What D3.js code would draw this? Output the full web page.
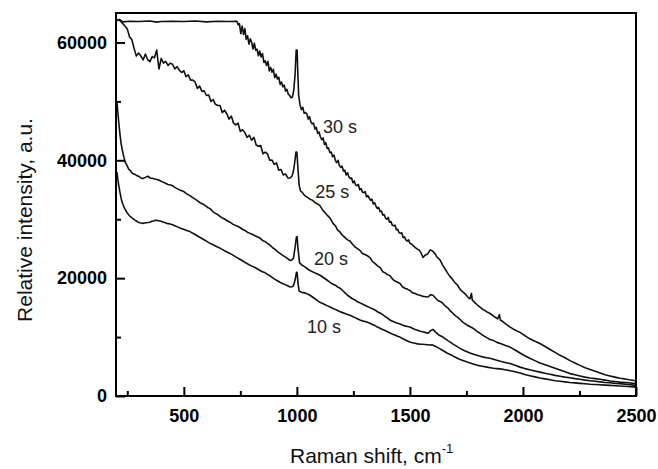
<!DOCTYPE html>
<html>
<head>
<meta charset="utf-8">
<script src="https://cdn.jsdelivr.net/npm/d3@7"></script>
<style>
  body { margin: 0; background: #fff; }
  svg { display: block; font-family: "Liberation Sans", Arial, sans-serif; }
</style>
</head>
<body>
<div id="chart"></div>
<script>
// Raman spectra, exposure times 10 s .. 30 s
const seriesNames = ["30 s", "25 s", "20 s", "10 s"];

const s30 = [[204,63700],[215,63900],[230,63500],[260,63600],[300,63550],[350,63650],[380,63450],[400,63550],[450,63600],[500,63550],[550,63650],[600,63500],[650,63600],[700,63550],[735,63600],
  [740,63000],[746,63190],[752,61480],[758,62770],[764,61360],[770,62350],[776,60540],[782,61130],[788,59720],[794,60610],[800,60000],[806,58890],[812,59880],[818,58670],[824,58860],[830,57750],[836,58540],[842,57530],[848,58120],[854,56610],[860,56900],[866,56090],[872,56780],[878,55170],[884,55760],[890,54950],[896,55440],[902,54030],[908,54620],[914,53810],[920,54100],[926,52890],[932,53280],[938,52470],[944,52760],[950,51750],[956,52040],[962,51230],[968,51020],[974,50610],[980,50700],[986,51800],[992,54500],[997,58700],[1001,58700],[1004,55000],[1008,51000],
  [1014,49400],[1020,48600],[1026,49000],[1032,48000],[1038,48100],[1044,47900],[1050,47000],[1056,47400],[1062,46500],[1068,46200],[1074,46300],[1080,45300],[1086,45600],[1092,44600],[1098,44800],[1104,44000],[1110,43500],[1116,43800],[1122,42700],[1128,43000],[1134,42000],[1140,42100],[1146,41300],[1152,41400],[1158,40600],[1164,40900],[1170,40000],[1176,39600],[1182,40000],[1188,39100],[1194,38800],[1200,39000],[1206,38200],[1212,38300],[1218,37500],[1224,37900],[1230,37200],[1236,36900],[1242,37000],[1248,36200],[1254,36500],[1260,35800],[1266,35700],[1272,35900],[1278,35000],[1284,35200],[1290,34600],[1296,34500],[1302,34700],[1308,33800],[1314,34000],[1320,33600],[1326,33200],[1332,33400],[1338,32600],[1344,32800],[1350,32200],[1356,31800],[1362,32000],[1368,31300],[1374,31400],[1380,30700],[1386,30800],[1392,30200],[1398,30000],[1404,30300],[1410,29500],[1416,29600],[1422,29000],[1428,28900],[1434,29000],[1440,28200],[1446,28300],[1452,27700],[1458,27600],[1464,27700],[1470,26900],[1476,27000],[1482,26500],[1488,26300],[1494,26500],[1500,25900],[1510,25700],[1520,25300],[1530,25000],[1540,24800],[1548,24400],[1558,23500],[1567,23900],[1578,24100],[1590,24800],[1600,24600],[1610,24200],[1620,23600],[1633,23100],[1645,22200],[1655,21600],[1666,20900],[1677,20300],[1688,19800],[1700,19200],[1711,18800],[1722,18100],[1733,17700],[1745,17300],[1756,16800],[1766,16500],[1772,17400],[1776,16300],[1788,15800],[1800,15400],[1810,15100],[1822,14700],[1832,14500],[1844,14200],[1854,14000],[1866,13700],[1876,13400],[1888,13100],[1896,13800],[1900,12900],[1912,12600],[1925,12200],[1943,11700],[1960,11300],[1987,10800],[2010,10200],[2030,9700],[2053,9300],[2075,8900],[2098,8400],[2120,7900],[2142,7400],[2164,6900],[2186,6500],[2208,6000],[2230,5600],[2252,5200],[2275,4800],[2297,4500],[2320,4200],[2341,3900],[2363,3600],[2385,3400],[2407,3200],[2429,3000],[2450,2900],[2470,2750],[2500,2600]];

const s25 = [[204,63800],[215,63800],[230,63200],[240,62800],[250,62300],[260,60900],[270,60500],[280,59000],[290,57700],[300,58200],[310,57700],[320,57050],[330,58050],[340,57100],[350,56750],[360,57600],[370,57400],[380,58700],[390,55500],[400,57300],[410,56500],[420,56800],[430,56100],[440,56500],[450,56300],[460,55500],[470,55900],[480,55300],[490,54900],[500,55200],[510,54200],[520,54500],[530,53600],[540,53600],[550,53300],[560,52200],[570,52600],[580,51700],[590,51800],[600,51000],[610,51100],[620,50000],[630,50300],[640,49500],[650,49300],[660,49300],[670,48100],[680,48500],[690,47900],[700,47000],[710,47500],[720,46300],[730,46000],[740,46300],[750,44900],[760,45200],[770,44700],[780,43900],[790,44250],[800,43400],[810,43900],[820,42600],[830,42400],[840,42500],[850,41100],[860,41400],[870,41100],[880,40000],[890,40050],[900,39300],[910,39550],[920,38300],[930,38450],[940,37500],[950,37700],[960,37000],[970,37000],[978,37300],[984,38000],[990,39500],[996,41400],[1000,41400],[1005,38500],[1010,35800],[1016,34800],
  [1023,34600],[1035,34000],[1047,33700],[1058,33400],[1070,33200],[1080,32800],[1092,32600],[1102,32300],[1115,31500],[1125,31100],[1136,30600],[1147,30200],[1160,29300],[1170,28900],[1180,28200],[1191,27800],[1203,27200],[1213,26900],[1224,26500],[1235,26300],[1247,25700],[1257,25300],[1268,25000],[1279,24700],[1290,24200],[1301,24000],[1312,23800],[1323,23500],[1335,22800],[1345,22500],[1357,22100],[1368,21800],[1380,21100],[1390,20900],[1401,20600],[1412,20400],[1424,19800],[1434,19500],[1446,19300],[1456,19100],[1468,18500],[1478,18300],[1490,18100],[1500,17900],[1512,17500],[1523,17400],[1535,17200],[1545,17100],[1558,16900],[1570,16850],[1580,16800],[1592,17200],[1602,17100],[1614,16600],[1624,16200],[1636,16000],[1646,15700],[1658,15200],[1669,14900],[1680,14400],[1691,14000],[1702,13600],[1713,13300],[1724,12900],[1735,12500],[1750,12100],[1765,11800],[1779,11500],[1795,11000],[1808,10700],[1823,10300],[1840,9900],[1854,9600],[1870,9400],[1885,9100],[1900,8900],[1920,8600],[1943,8300],[1965,7800],[1987,7300],[2010,6800],[2030,6400],[2053,6000],[2075,5600],[2098,5300],[2120,5000],[2142,4700],[2164,4400],[2186,4100],[2208,3800],[2230,3600],[2252,3400],[2275,3200],[2297,3050],[2320,2950],[2341,2850],[2363,2700],[2385,2550],[2407,2450],[2429,2350],[2465,2250],[2500,2100]];

const s20 = [[204,50000],[208,48200],[212,46500],[217,44600],[222,43000],[228,41700],[235,40500],[242,39600],[250,39000],[256,38500],[262,38300],[272,37800],[284,37600],[292,37400],[300,37300],[310,37000],[319,36900],[330,37100],[340,37300],[352,37000],[364,36900],[375,36800],[386,36700],[397,36500],[408,36300],[419,36100],[430,35900],[440,35800],[450,35700],[460,35400],[470,35200],[485,34900],[500,34700],[513,34300],[527,34000],[538,33700],[550,33400],[561,33100],[572,32800],[584,32600],[595,32300],[605,32000],[616,31800],[628,31300],[640,31000],[650,30800],[660,30500],[671,30200],[682,30000],[693,29700],[704,29500],[715,29200],[726,29000],[737,28800],[748,28600],[759,28300],[770,28100],[781,27800],[793,27600],[804,27400],[815,27200],[826,27000],[837,26800],[848,26400],[860,26200],[870,25900],[881,25600],[892,25200],[903,24900],[914,24500],[925,24200],[936,23900],[948,23600],[959,23300],[970,23000],[978,23100],[985,23400],[993,25500],[998,27000],[1001,27000],[1005,25000],[1012,22600],
  [1023,22200],[1032,22000],[1040,21800],[1049,21500],[1058,21300],[1069,21100],[1080,20900],[1091,20700],[1102,20500],[1114,20200],[1125,19900],[1136,19600],[1147,19300],[1158,19000],[1170,18800],[1180,18500],[1191,18300],[1202,17900],[1213,17500],[1224,17100],[1235,16800],[1246,16500],[1257,16300],[1268,16000],[1279,15800],[1290,15600],[1301,15400],[1312,15200],[1323,15000],[1334,14800],[1345,14600],[1356,14300],[1368,14100],[1379,13800],[1390,13500],[1401,13200],[1412,12900],[1423,12700],[1434,12500],[1445,12350],[1456,12200],[1467,12050],[1478,11900],[1489,11800],[1500,11700],[1511,11500],[1523,11300],[1534,11150],[1545,11000],[1556,10900],[1567,10800],[1580,10650],[1592,11100],[1602,11300],[1615,10800],[1630,10300],[1646,10000],[1657,9700],[1668,9400],[1680,9100],[1691,8800],[1702,8550],[1713,8300],[1724,8050],[1735,7800],[1750,7550],[1766,7300],[1781,7100],[1797,6900],[1811,6750],[1825,6600],[1840,6500],[1854,6400],[1877,6150],[1900,5900],[1921,5700],[1943,5500],[1965,5200],[1987,4900],[2008,4650],[2030,4450],[2053,4250],[2075,4050],[2098,3850],[2120,3700],[2142,3500],[2164,3350],[2186,3200],[2208,3100],[2230,2950],[2252,2850],[2275,2700],[2297,2600],[2320,2500],[2341,2400],[2363,2300],[2385,2250],[2407,2150],[2429,2100],[2465,1950],[2500,1800]];

const s10 = [[204,38000],[208,36800],[212,35800],[217,34700],[222,33700],[226,33000],[231,32500],[236,32000],[240,31700],[249,31100],[255,30800],[262,30500],[268,30300],[275,30100],[282,29900],[290,29700],[298,29500],[305,29400],[312,29350],[319,29300],[327,29350],[335,29400],[342,29450],[350,29500],[358,29650],[365,29700],[372,29800],[380,29800],[388,29750],[395,29700],[402,29600],[410,29500],[418,29400],[425,29300],[432,29250],[439,29200],[450,29050],[460,28900],[472,28700],[483,28500],[494,28350],[505,28200],[516,28050],[527,27900],[538,27650],[550,27400],[561,27150],[572,26900],[584,26650],[595,26400],[605,26150],[616,25900],[627,25700],[638,25500],[649,25300],[660,25100],[671,24850],[682,24600],[693,24400],[704,24200],[715,23950],[726,23700],[737,23450],[748,23200],[759,22950],[770,22700],[781,22450],[793,22200],[804,22000],[815,21800],[826,21550],[837,21300],[848,21100],[860,20900],[870,20650],[881,20400],[892,20100],[903,19800],[914,19550],[925,19300],[936,19100],[948,18900],[959,18700],[970,18500],[978,18550],[985,18700],[993,19800],[998,21000],[1001,21000],[1005,19200],[1010,17800],
  [1020,17600],[1028,17550],[1036,17500],[1047,17300],[1058,17100],[1069,16800],[1080,16500],[1091,16200],[1102,15900],[1114,15700],[1125,15500],[1136,15300],[1147,15100],[1158,14900],[1170,14700],[1180,14500],[1191,14300],[1202,14150],[1213,14000],[1224,13850],[1235,13700],[1246,13500],[1257,13300],[1268,13100],[1279,12900],[1290,12750],[1301,12650],[1312,12500],[1323,12350],[1334,12150],[1345,11950],[1356,11700],[1368,11500],[1379,11300],[1390,11100],[1401,10900],[1412,10700],[1423,10500],[1434,10350],[1445,10150],[1456,10000],[1467,9750],[1478,9550],[1489,9350],[1500,9150],[1511,9050],[1523,8950],[1534,8850],[1545,8800],[1556,8780],[1567,8750],[1578,8700],[1589,8650],[1598,8700],[1605,8550],[1612,8450],[1620,8300],[1631,8050],[1642,7800],[1653,7550],[1664,7300],[1675,7100],[1686,6900],[1697,6650],[1708,6450],[1722,6200],[1737,6000],[1751,5800],[1766,5600],[1783,5400],[1800,5200],[1820,5050],[1841,4900],[1855,4800],[1870,4700],[1885,4650],[1900,4600],[1921,4450],[1943,4300],[1965,4100],[1987,3900],[2008,3650],[2030,3450],[2053,3250],[2075,3050],[2098,2900],[2120,2750],[2142,2600],[2164,2500],[2186,2400],[2208,2300],[2230,2220],[2252,2150],[2275,2070],[2297,2000],[2320,1950],[2341,1900],[2363,1850],[2385,1800],[2407,1750],[2429,1700],[2465,1600],[2500,1500]];

const allSeries = [s30, s25, s20, s10];

// label anchor points (data coords, baseline-left of the text)
const labelX = [1116, 1081, 1076, 1045];
const labelY = [44630, 33600, 22230, 10690];

const xMajor = [500, 1000, 1500, 2000, 2500];
const xMinor = [250, 750, 1250, 1750, 2250];
const yMajor = [0, 20000, 40000, 60000];
const yMinor = [10000, 30000, 50000];

const width = 658;
const height = 469;
const margin = {top: 13, right: 22, bottom: 73, left: 116};

const svg = d3.select("#chart").append("svg")
    .attr("width", width)
    .attr("height", height);

const x = d3.scaleLinear()
    .domain([200, 2500])
    .range([margin.left, width - margin.right]);

const y = d3.scaleLinear()
    .domain([0, 65000])
    .range([height - margin.bottom, margin.top]);

const line = d3.line()
    .x(d => x(d[0]))
    .y(d => y(d[1]));

const plotArea = svg.append("g");

plotArea.selectAll("path.spectrum")
    .data(allSeries)
    .join("path")
    .attr("class", "spectrum")
    .attr("fill", "none")
    .attr("stroke", "#111")
    .attr("stroke-width", 1.6)
    .attr("stroke-linejoin", "round")
    .attr("d", line);

plotArea.selectAll("text.series-label")
    .data(seriesNames)
    .join("text")
    .attr("class", "series-label")
    .attr("x", (d, i) => x(labelX[i]))
    .attr("y", (d, i) => y(labelY[i]))
    .attr("font-size", 18)
    .attr("fill", "#222")
    .text(d => d);

// axes: ticks point inward
const bottomY = height - margin.bottom;
const fmt = d3.format("d");

const xAxis = svg.append("g")
    .attr("transform", `translate(0,${bottomY})`)
    .call(d3.axisBottom(x).tickValues(xMajor).tickFormat(fmt).tickSize(-9).tickSizeOuter(0).tickPadding(13));
const xAxisMinor = svg.append("g")
    .attr("transform", `translate(0,${bottomY})`)
    .call(d3.axisBottom(x).tickValues(xMinor).tickSize(-5).tickSizeOuter(0).tickFormat(""));

const yAxis = svg.append("g")
    .attr("transform", `translate(${margin.left},0)`)
    .call(d3.axisLeft(y).tickValues(yMajor).tickFormat(fmt).tickSize(-9).tickSizeOuter(0).tickPadding(9));
const yAxisMinor = svg.append("g")
    .attr("transform", `translate(${margin.left},0)`)
    .call(d3.axisLeft(y).tickValues(yMinor).tickSize(-5).tickSizeOuter(0).tickFormat(""));

[xAxis, xAxisMinor, yAxis, yAxisMinor].forEach(function(g) {
    g.select(".domain").remove();
    g.selectAll(".tick line").attr("stroke", "#000").attr("stroke-width", 2);
    g.selectAll(".tick text")
        .attr("font-family", "'Liberation Sans', Arial, sans-serif")
        .attr("font-size", 18)
        .attr("font-weight", "bold")
        .attr("fill", "#000");
});

// frame
svg.append("rect")
    .attr("x", margin.left)
    .attr("y", margin.top)
    .attr("width", width - margin.left - margin.right)
    .attr("height", height - margin.top - margin.bottom)
    .attr("fill", "none")
    .attr("stroke", "#000")
    .attr("stroke-width", 2);

// axis titles
const xTitle = svg.append("text")
    .attr("x", 290)
    .attr("y", 463)
    .attr("font-size", 21)
    .attr("fill", "#111");
xTitle.append("tspan").text("Raman shift, cm");
xTitle.append("tspan")
    .attr("font-size", 13)
    .attr("dy", -10)
    .text("-1");

svg.append("text")
    .attr("transform", "translate(32,220) rotate(-90)")
    .attr("text-anchor", "middle")
    .attr("font-size", 21)
    .attr("fill", "#111")
    .text("Relative intensity, a.u.");
</script>
</body>
</html>
